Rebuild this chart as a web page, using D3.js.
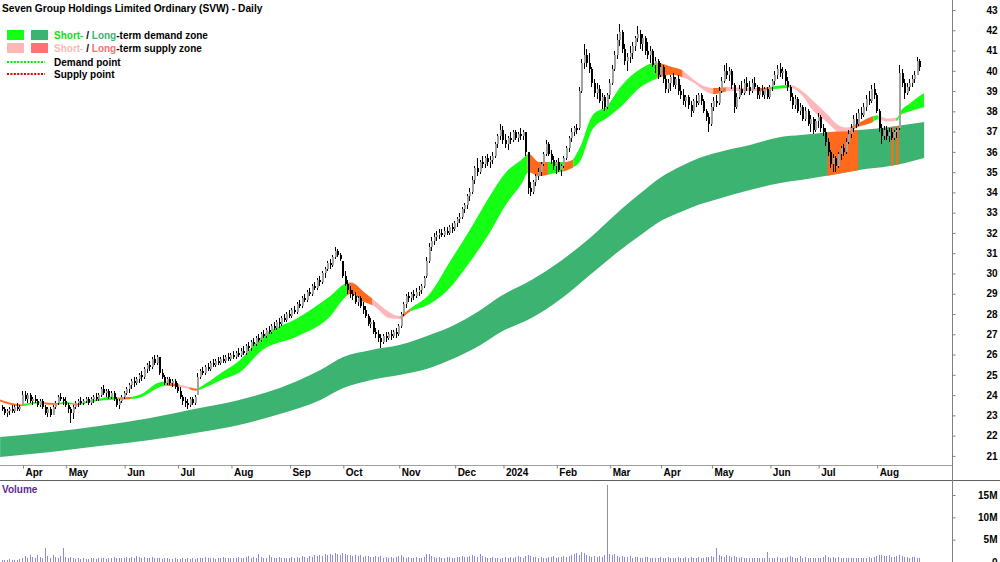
<!DOCTYPE html>
<html>
<head>
<meta charset="utf-8">
<script src="https://cdn.jsdelivr.net/npm/d3@7"></script>
<style>
  body { margin: 0; background: #fff; }
  svg { display: block; }
  text { font-family: "Liberation Sans", Arial, sans-serif; font-weight: bold; }
</style>
</head>
<body>
<svg id="chart" width="1000" height="562"></svg>
<script>
// ---- data ----
const startDate = '2023-03-22';
const endDate = '2024-08-26';
const holidays = ['2023-04-07', '2023-04-10', '2023-04-25', '2023-06-12', '2023-12-25', '2023-12-26',
  '2024-01-01', '2024-01-26', '2024-03-29', '2024-04-01', '2024-04-25', '2024-06-10'];

const monthLabels = ['Apr', 'May', 'Jun', 'Jul', 'Aug', 'Sep', 'Oct', 'Nov', 'Dec', '2024',
  'Feb', 'Mar', 'Apr', 'May', 'Jun', 'Jul', 'Aug'];
const priceTicks = [21, 22, 23, 24, 25, 26, 27, 28, 29, 30, 31, 32, 33, 34, 35, 36, 37, 38, 39, 40, 41, 42, 43];
const volumeTicks = [0, 5, 10, 15];

// open, high, low, close
const candles = [
  // Mar 2023
  [23.4,23.5,23.2,23.3],[23.3,23.4,23.0,23.1],[23.1,23.3,22.9,23.2],[23.2,23.4,23.0,23.3],
  [23.3,23.5,23.1,23.2],[23.2,23.5,23.1,23.4],[23.4,23.6,23.2,23.3],[23.3,23.5,23.2,23.4],
  // Apr
  [23.5,24.2,23.5,24.0],[24.0,24.2,23.7,23.8],[23.8,24.1,23.6,24.0],[24.0,24.1,23.6,23.7],
  [23.7,23.9,23.5,23.8],[23.8,24.0,23.6,23.7],[23.7,23.8,23.4,23.5],[23.5,23.8,23.4,23.7],
  [23.7,23.8,23.3,23.4],[23.4,23.5,23.0,23.1],[23.1,23.4,22.9,23.3],[23.3,23.4,22.9,23.0],
  [23.0,23.5,23.0,23.4],[23.4,23.7,23.3,23.6],[23.6,24.0,23.5,23.9],[23.9,24.1,23.7,23.8],
  [23.8,23.9,23.5,23.7],
  // May
  [23.7,23.9,23.4,23.5],[23.5,23.6,23.1,23.3],[23.3,23.4,22.6,23.1],[23.1,23.5,22.8,23.4],
  [23.4,23.7,23.3,23.6],[23.6,23.8,23.4,23.7],[23.7,23.9,23.5,23.6],[23.6,23.8,23.5,23.7],
  [23.7,23.9,23.6,23.8],[23.8,23.9,23.5,23.6],[23.6,23.9,23.5,23.8],[23.8,24.0,23.6,23.9],
  [23.9,24.1,23.7,23.8],[23.8,24.1,23.7,24.0],[24.0,24.4,23.9,24.3],[24.3,24.5,24.0,24.1],
  [24.1,24.3,23.9,24.2],[24.2,24.3,23.8,23.9],[23.9,24.2,23.8,24.1],[24.1,24.2,23.7,23.8],
  [23.8,23.9,23.4,23.5],[23.5,23.8,23.3,23.7],[23.7,24.0,23.6,23.9],
  // Jun
  [23.9,24.2,23.8,24.1],[24.1,24.4,24.0,24.3],[24.3,24.6,24.1,24.5],[24.5,24.8,24.3,24.7],
  [24.7,24.9,24.4,24.6],[24.6,24.9,24.5,24.8],[24.8,25.1,24.6,25.0],[25.0,25.2,24.7,24.9],
  [24.9,25.4,24.8,25.3],[25.3,25.6,25.1,25.5],[25.5,25.7,25.2,25.4],[25.4,25.9,25.3,25.8],
  [25.8,26.0,25.5,25.6],[25.6,26.0,25.5,25.9],[25.9,25.9,25.0,25.1],[25.1,25.3,24.8,24.9],
  [24.9,25.0,24.5,24.6],[24.6,24.9,24.5,24.8],[24.8,24.9,24.5,24.6],[24.6,24.8,24.4,24.7],
  [24.7,24.8,24.3,24.4],
  // Jul
  [24.4,24.6,24.1,24.2],[24.2,24.4,23.8,23.9],[23.9,24.0,23.5,23.7],[23.7,23.9,23.4,23.6],
  [23.6,23.8,23.3,23.5],[23.5,23.9,23.4,23.8],[23.8,23.9,23.5,23.6],[23.6,24.0,23.5,23.9],
  [24.0,25.1,24.0,24.9],[24.9,25.3,24.8,25.2],[25.2,25.4,25.0,25.1],[25.1,25.5,25.0,25.4],
  [25.4,25.6,25.2,25.3],[25.3,25.7,25.2,25.6],[25.6,25.8,25.4,25.5],[25.5,25.8,25.4,25.7],
  [25.7,25.9,25.5,25.6],[25.6,25.9,25.5,25.8],[25.8,26.0,25.6,25.7],[25.7,26.0,25.6,25.9],
  [25.9,26.1,25.7,25.8],
  // Aug
  [25.8,26.1,25.7,26.0],[26.0,26.2,25.8,25.9],[25.9,26.2,25.8,26.1],[26.1,26.3,25.9,26.0],
  [26.0,26.3,25.9,26.2],[26.2,26.4,26.0,26.1],[26.1,26.5,26.0,26.4],[26.4,26.6,26.2,26.3],
  [26.3,26.7,26.2,26.6],[26.6,26.8,26.4,26.5],[26.5,26.9,26.4,26.8],[26.8,27.0,26.6,26.7],
  [26.7,27.1,26.6,27.0],[27.0,27.2,26.8,26.9],[26.9,27.3,26.8,27.2],[27.2,27.4,27.0,27.1],
  [27.1,27.5,27.0,27.4],[27.4,27.6,27.2,27.3],[27.3,27.7,27.2,27.6],[27.6,27.8,27.3,27.5],
  [27.5,27.9,27.4,27.8],[27.8,28.0,27.6,27.7],[27.7,28.1,27.6,28.0],
  // Sep
  [28.0,28.2,27.8,27.9],[27.9,28.3,27.8,28.2],[28.2,28.4,28.0,28.1],[28.1,28.6,28.0,28.5],
  [28.5,28.7,28.3,28.4],[28.4,28.9,28.3,28.8],[28.8,29.0,28.6,28.7],[28.7,29.2,28.6,29.1],
  [29.1,29.3,28.9,29.0],[29.0,29.5,28.9,29.4],[29.4,29.6,29.2,29.3],[29.3,29.8,29.2,29.7],
  [29.7,29.9,29.4,29.6],[29.6,30.1,29.5,30.0],[30.0,30.3,29.8,30.2],[30.2,30.6,30.1,30.5],
  [30.5,30.7,30.2,30.4],[30.4,30.9,30.3,30.8],[30.8,31.3,30.7,31.1],[31.1,31.2,30.8,30.9],
  [30.9,31.0,30.6,30.7],
  // Oct
  [30.6,30.6,29.8,29.9],[29.9,30.1,29.4,29.5],[29.5,29.7,29.0,29.2],[29.2,29.4,28.8,29.0],
  [29.0,29.2,28.7,28.9],[28.9,29.1,28.5,28.6],[28.6,28.9,28.4,28.8],[28.8,28.9,28.3,28.4],
  [28.4,28.6,28.0,28.2],[28.2,28.4,27.8,27.9],[27.9,28.0,27.4,27.5],[27.5,27.8,27.3,27.6],
  [27.6,27.7,27.0,27.1],[27.1,27.3,26.8,27.0],[27.0,27.2,26.6,26.8],[26.8,27.0,26.3,26.6],
  [26.6,27.0,26.5,26.9],[26.9,27.1,26.6,26.8],[26.8,27.1,26.7,27.0],[27.0,27.2,26.7,26.9],
  [26.9,27.2,26.8,27.1],[27.1,27.3,26.8,27.0],
  // Nov
  [27.0,27.5,26.9,27.4],[27.4,28.1,27.3,28.0],[28.0,28.6,27.9,28.5],[28.5,29.0,28.3,28.9],
  [28.9,29.1,28.6,28.8],[28.8,29.1,28.6,29.0],[29.0,29.2,28.7,28.9],[28.9,29.3,28.8,29.1],
  [29.1,29.4,28.9,29.2],[29.2,29.5,29.0,29.4],[29.4,29.9,29.3,29.8],[29.9,30.8,29.8,30.6],
  [30.6,31.5,30.5,31.3],[31.3,31.8,31.1,31.6],[31.6,32.0,31.4,31.8],[31.8,32.1,31.6,31.9],
  [31.9,32.2,31.7,32.0],[32.0,32.2,31.8,31.9],[31.9,32.3,31.8,32.1],[32.1,32.3,31.9,32.0],
  [32.0,32.4,31.9,32.3],[32.3,32.5,32.0,32.2],
  // Dec
  [32.2,32.6,32.1,32.5],[32.5,32.8,32.3,32.7],[32.7,33.0,32.5,32.8],[32.8,33.3,32.7,33.2],
  [33.2,33.5,33.0,33.4],[33.4,33.9,33.2,33.8],[33.8,34.2,33.6,34.0],[34.0,34.8,33.9,34.6],
  [34.6,35.3,34.4,35.2],[35.2,35.7,34.8,35.0],[35.0,35.6,34.9,35.5],[35.5,35.8,35.2,35.4],
  [35.4,35.8,35.2,35.7],[35.7,35.9,35.3,35.5],[35.5,35.8,35.2,35.6],[35.6,36.0,35.4,35.8],
  [35.8,36.5,35.7,36.4],[36.4,36.9,36.2,36.8],[36.8,37.4,36.6,37.1],
  // Jan 2024
  [37.1,37.3,36.4,36.6],[36.6,36.9,36.2,36.4],[36.4,36.8,36.1,36.7],[36.7,37.0,36.4,36.6],
  [36.6,37.1,36.5,37.0],[37.0,37.1,36.6,36.7],[36.7,37.0,36.5,36.9],[36.9,37.2,36.6,36.8],
  [36.8,37.1,36.6,37.0],[37.0,37.0,35.8,36.0],[36.0,36.0,33.9,34.2],[34.2,34.5,33.8,34.0],
  [34.0,34.6,33.9,34.5],[34.5,34.9,34.3,34.8],[34.8,35.2,34.6,35.0],[35.0,35.5,34.8,35.4],
  [35.4,36.0,35.3,35.9],[35.9,36.6,35.8,36.4],[36.4,36.5,35.8,35.9],[35.9,36.1,35.4,35.6],
  [35.6,35.8,35.1,35.3],
  // Feb
  [35.3,35.6,34.9,35.5],[35.5,35.7,35.0,35.1],[35.1,35.4,34.8,35.3],[35.3,35.8,35.2,35.7],
  [35.7,36.3,35.6,36.2],[36.2,36.8,36.0,36.7],[36.7,37.2,36.5,37.0],[37.0,37.3,36.8,37.2],
  [37.2,37.4,36.9,37.1],[37.2,39.2,37.1,39.0],[39.0,40.6,38.9,40.4],[40.4,41.3,40.1,40.8],
  [40.8,41.1,40.2,40.4],[40.4,40.9,39.9,40.1],[40.1,40.2,39.2,39.4],[39.4,39.6,38.7,38.9],
  [38.9,39.4,38.6,39.1],[39.1,39.3,38.4,38.5],[38.5,38.9,38.1,38.7],[38.7,38.8,38.0,38.2],
  [38.2,38.9,38.1,38.8],
  // Mar
  [38.8,39.6,38.6,39.4],[39.4,40.3,39.3,40.1],[40.1,41.0,40.0,40.8],[40.8,41.8,40.6,41.5],
  [41.5,42.3,41.2,41.9],[41.9,42.0,40.9,41.1],[41.1,41.3,40.3,40.5],[40.5,40.9,40.0,40.7],
  [40.7,41.2,40.4,40.9],[40.9,41.4,40.6,41.2],[41.2,41.7,41.0,41.6],[41.6,42.2,41.4,41.8],
  [41.8,42.0,41.1,41.3],[41.3,41.8,41.0,41.6],[41.6,41.7,40.8,41.0],[41.0,41.4,40.6,40.8],
  [40.8,41.2,40.4,41.0],[41.0,41.1,40.2,40.3],[40.3,40.7,39.9,40.5],[40.5,40.6,39.6,39.8],
  // Apr
  [39.8,40.4,39.7,40.2],[40.2,40.3,39.4,39.6],[39.6,39.8,38.9,39.1],[39.1,39.6,38.9,39.4],
  [39.4,39.8,39.0,39.7],[39.7,39.9,39.2,39.3],[39.3,39.7,39.1,39.6],[39.6,39.8,38.8,39.0],
  [39.0,39.3,38.6,38.8],[38.8,39.1,38.3,38.5],[38.5,38.8,38.2,38.7],[38.7,38.8,38.1,38.3],
  [38.3,38.5,37.7,38.0],[38.0,38.6,37.9,38.5],[38.5,38.8,38.2,38.4],[38.4,38.9,38.3,38.8],
  [38.8,38.9,38.3,38.5],[38.5,38.6,37.9,38.0],[38.0,38.1,37.5,37.7],[37.7,37.9,37.0,37.4],
  // May
  [37.4,38.4,37.3,38.2],[38.2,38.7,38.0,38.5],[38.5,38.8,38.2,38.4],[38.4,39.2,38.3,39.0],
  [39.0,39.7,38.9,39.5],[39.5,40.3,39.4,40.0],[40.0,40.4,39.6,39.8],[39.8,40.2,39.5,40.0],
  [40.0,40.1,39.1,39.3],[39.3,39.4,37.9,38.2],[38.2,38.9,38.1,38.7],[38.7,39.3,38.6,39.1],
  [39.1,39.5,38.8,38.9],[38.9,39.6,38.8,39.4],[39.4,39.7,39.0,39.2],[39.2,39.5,38.8,39.0],
  [39.0,39.6,38.9,39.4],[39.4,39.7,39.1,39.2],[39.2,39.3,38.6,38.8],[38.8,39.2,38.6,39.0],
  [39.0,39.3,38.7,38.8],[38.8,39.2,38.6,39.1],[39.1,39.2,38.6,38.7],
  // Jun
  [38.7,39.3,38.6,39.2],[39.2,39.6,39.0,39.5],[39.5,40.0,39.3,39.8],[39.8,40.3,39.6,40.1],
  [40.1,40.4,39.7,39.9],[39.9,40.2,39.6,40.0],[40.0,40.1,39.3,39.5],[39.5,39.7,39.0,39.2],
  [39.2,39.3,38.5,38.7],[38.7,38.9,38.1,38.3],[38.3,38.8,38.1,38.6],[38.6,38.7,37.9,38.0],
  [38.0,38.4,37.8,38.2],[38.2,38.3,37.5,37.6],[37.6,38.2,37.5,38.0],[38.0,38.1,37.3,37.4],
  [37.4,37.8,37.0,37.6],[37.6,37.7,36.9,37.1],[37.1,37.6,37.0,37.5],
  // Jul
  [37.5,37.9,37.2,37.7],[37.7,37.8,37.0,37.2],[37.2,37.4,36.8,37.0],[37.0,37.2,36.3,36.5],
  [36.5,36.7,35.8,36.0],[36.0,36.1,35.2,35.4],[35.4,35.9,35.0,35.7],[35.7,35.8,35.0,35.3],
  [35.3,36.0,35.2,35.9],[35.9,36.3,35.6,36.2],[36.2,36.4,35.8,36.0],[36.0,36.7,35.9,36.5],
  [36.5,37.1,36.4,36.9],[36.9,37.4,36.7,37.2],[37.2,37.8,37.0,37.6],[37.6,37.9,37.2,37.4],
  [37.4,38.1,37.3,37.9],[37.9,38.2,37.6,37.8],[37.8,38.4,37.7,38.2],[38.2,38.8,38.0,38.6],
  [38.6,39.0,38.3,38.5],[38.5,39.3,38.4,39.1],[39.1,39.4,38.6,38.8],
  // Aug
  [38.8,38.9,37.9,38.0],[38.0,38.1,37.0,37.2],[37.2,37.4,36.4,36.8],[36.8,37.3,36.6,37.1],
  [37.1,37.3,36.6,36.8],[36.8,37.2,36.5,37.0],[37.0,37.2,36.6,36.7],[36.7,37.1,36.6,37.0],
  [37.0,37.2,36.7,37.1],[37.2,40.3,37.1,39.9],[39.9,40.1,39.2,39.4],[39.4,39.6,38.6,38.9],
  [38.9,39.4,38.8,39.2],[39.2,39.6,39.0,39.4],[39.4,39.8,39.2,39.6],[39.6,40.0,39.4,39.8],
  [39.8,40.7,39.8,40.5],[40.5,40.6,40.0,40.2]
];

// millions of shares
const volumes = [
  0.4,0.5,0.4,0.6,0.5,0.4,0.5,0.6,
  1.0,1.3,0.9,1.6,1.2,0.8,1.5,1.1,0.9,3.1,1.3,1.0,1.5,1.2,0.9,1.4,3.2,
  1.2,0.9,1.1,0.8,0.7,0.9,0.6,0.8,0.7,0.6,0.9,0.8,0.7,0.9,0.8,1.0,0.7,0.9,0.8,1.1,0.9,0.8,1.0,
  0.9,1.1,0.8,1.2,1.0,1.3,1.1,0.9,1.2,1.0,0.8,1.1,0.9,1.0,0.8,0.7,0.9,0.8,0.6,0.7,0.8,
  0.7,0.6,0.8,0.7,0.9,0.6,0.8,0.7,1.0,0.9,0.8,1.1,0.9,0.8,1.0,0.7,0.9,0.8,1.1,0.9,0.8,
  0.9,1.0,0.8,1.2,1.0,0.9,1.1,1.4,1.0,1.2,0.9,1.8,1.1,1.0,0.8,1.5,1.2,1.0,0.9,1.1,0.8,0.9,1.0,
  0.9,1.1,1.0,1.2,1.0,1.3,1.1,1.0,1.4,1.2,1.5,1.3,1.6,1.4,1.7,1.5,1.8,1.6,2.0,1.7,1.5,
  2.1,1.8,1.6,1.5,1.4,1.6,1.3,1.5,1.2,1.4,1.3,1.1,1.2,1.4,1.1,1.3,1.0,1.2,0.9,1.1,1.0,1.2,
  1.3,1.6,1.2,1.0,1.1,0.9,1.0,1.2,1.0,0.9,1.1,1.7,1.9,1.3,1.2,1.0,1.1,0.9,1.0,1.2,1.1,1.0,
  1.0,1.2,1.1,1.3,1.2,1.1,1.4,1.6,1.3,1.2,1.8,1.4,1.2,1.0,0.9,1.1,0.8,0.9,0.7,
  1.0,1.1,0.9,1.2,1.0,1.1,1.3,1.2,1.0,1.4,1.6,1.3,1.1,1.2,1.0,1.1,0.9,1.0,1.2,1.1,1.3,
  1.0,1.2,1.1,1.3,1.2,1.4,1.5,1.9,2.1,1.6,2.3,2.0,1.5,1.3,1.2,1.4,1.1,1.3,1.2,1.5,17.2,
  1.8,1.5,1.9,1.4,1.2,1.3,1.1,1.2,1.4,1.0,1.1,1.2,1.0,0.9,1.1,1.2,1.0,0.8,0.9,1.0,
  1.1,0.9,1.0,1.2,0.9,1.0,0.8,1.1,1.0,0.9,1.1,1.0,1.2,0.9,1.0,1.1,0.9,1.0,1.2,1.1,
  1.3,1.2,3.1,1.5,1.4,1.2,1.6,1.3,1.1,1.4,1.2,1.0,1.1,0.9,1.0,0.8,0.9,1.0,0.8,0.9,1.0,0.8,2.2,
  1.0,0.9,0.8,1.1,0.9,1.0,0.8,1.2,1.4,1.1,1.0,0.9,1.3,1.0,1.1,0.9,1.0,0.8,1.0,
  0.9,1.0,1.1,1.6,1.2,1.0,1.1,0.9,1.2,1.0,0.8,0.9,1.0,0.9,0.8,1.0,0.9,0.8,1.0,0.9,1.1,1.0,1.2,
  1.3,1.5,1.6,1.4,1.3,1.5,1.2,1.1,1.4,1.6,1.3,1.2,1.1,1.0,1.2,1.1,1.0,0.9
];

// short-term zone: [bar index, upper, lower]
const shortBand = [
  [-1,23.78,23.68],[7,23.55,23.45],[11,23.62,23.54],[15,23.68,23.6],[18,23.62,23.52],
  [21,23.6,23.52],[25,23.66,23.57],[29,23.58,23.5],[34,23.72,23.63],[38,23.82,23.72],
  [42,23.92,23.76],[46,23.88,23.78],[50,23.9,23.8],[55,24.08,23.92],[61,24.6,24.35],
  [64,24.66,24.46],[68,24.56,24.42],[72,24.45,24.35],[76,24.32,24.22],[80,24.58,24.4],
  [86,25.1,24.75],[93,25.7,25.1],[102,26.9,26.2],[116,27.8,26.9],[129,28.9,27.9],
  [135,29.5,28.85],[137,29.55,29.0],[142,29.1,28.6],[146,28.7,28.4],[152,28.1,27.8],
  [156,27.9,27.75],[160,28.25,28.1],[168,29.0,28.5],[176,30.6,29.3],[184,32.2,30.6],
  [192,33.9,32.1],[198,35.0,33.4],[204,35.6,34.4],[207,35.9,35.0],[211,35.5,34.8],
  [217,35.5,34.95],[221,35.5,35.05],[224,35.6,35.2],[227,36.2,35.5],[232,37.8,37.1],
  [238,38.3,37.7],[243,39.2,38.2],[251,40.1,39.2],[257,40.4,39.6],[263,40.2,39.8],
  [267,40.05,39.7],[272,39.55,39.4],[277,39.2,38.96],[280,39.15,38.85],[286,39.2,39.0],
  [292,39.15,39.0],[298,39.15,39.0],[304,39.25,39.1],[310,39.3,39.15],[314,39.05,38.85],
  [319,38.5,38.0],[324,37.9,37.5],[329,37.3,37.0],[332,37.2,37.0],[337,37.45,37.25],
  [342,37.75,37.45],[344,37.8,37.6],[348,37.65,37.5],[352,37.7,37.55],[353,37.95,37.8],
  [357,38.4,38.0],[362.5,38.9,38.2]
];
// short-term zone state from bar index onwards
const shortStates = [
  [-1,'down'],[8,'up'],[17,'down'],[23,'up'],[28,'down'],[31,'up'],[46,'down'],[51,'up'],
  [65,'down'],[70,'fade'],[74,'down'],[77,'up'],[136,'down'],[146,'fade'],[157,'down'],
  [161,'up'],[207,'down'],[215,'up'],[221,'down'],[225,'up'],[258,'down'],[268,'fade'],
  [280,'down'],[285,'fade'],[298,'down'],[303,'up'],[310,'fade'],[334,'down'],[343,'up'],
  [345,'fade'],[352,'up']
];

// long-term zone: [bar index, upper, lower]
const longBand = [
  [-1,21.93,20.95],[19,22.18,21.19],[38,22.48,21.49],[58,22.87,21.79],[78,23.37,22.18],
  [93,23.76,22.53],[109,24.35,23.07],[125,25.24,23.76],[134,25.88,24.35],[145,26.23,24.75],
  [156,26.47,24.99],[168,26.97,25.34],[176,27.36,25.73],[188,28.2,26.47],[196,28.89,27.11],
  [208,29.68,27.8],[219,30.57,28.69],[231,31.75,29.93],[243,33.13,31.16],[251,33.97,31.9],
  [259,34.75,32.6],[267,35.3,33.05],[274,35.7,33.4],[282,36.0,33.7],[294,36.34,34.12],
  [306,36.73,34.47],[314,36.83,34.61],[326,36.98,34.86],[337,37.08,35.11],[349,37.23,35.3],
  [362.5,37.47,35.7]
];
// bar ranges where the long-term zone turns to supply [from, to)
const longSupply = [[325, 337], [350, 351], [352, 353]];

const zoneColors = { up: '#14ff14', down: '#ff6a1c', fade: '#ffb8ba' };
const longColor = '#3cb371';

// ---- trading days ----
const parse = d3.utcParse('%Y-%m-%d');
const fmt = d3.utcFormat('%Y-%m-%d');
const days = [];
for (let d = parse(startDate); d <= parse(endDate); d = d3.utcDay.offset(d, 1)) {
  const wd = d.getUTCDay();
  if (wd === 0 || wd === 6 || holidays.includes(fmt(d))) continue;
  days.push(d);
}
const monthStarts = [];
days.forEach((d, i) => {
  if (i > 0 && d.getUTCMonth() !== days[i - 1].getUTCMonth()) monthStarts.push(i);
});

// ---- layout ----
const svg = d3.select('#chart');
const axisX = 952.5;
const priceBottom = 465.5;
const volTop = 480.5;

const x = d3.scaleLinear().domain([0, 374]).range([2.66, 953.4]);
const y = d3.scaleLinear().domain([21, 43]).range([455.9, 10]);
const yv = d3.scaleLinear().domain([0, 15]).range([562, 495]);

svg.append('clipPath').attr('id', 'plot')
  .append('rect').attr('x', 0).attr('y', 0).attr('width', axisX).attr('height', priceBottom);

const plot = svg.append('g').attr('clip-path', 'url(#plot)');

const area = d3.area()
  .x(d => x(d[0]))
  .y0(d => y(d[2]))
  .y1(d => y(d[1]))
  .curve(d3.curveMonotoneX);

// long-term zone
plot.append('path').attr('d', area(longBand)).attr('fill', longColor);
longSupply.forEach((r, k) => {
  const id = 'ls' + k;
  svg.append('clipPath').attr('id', id).append('rect')
    .attr('x', x(r[0] - 0.5)).attr('y', 0)
    .attr('width', x(r[1] - 0.5) - x(r[0] - 0.5)).attr('height', priceBottom);
  plot.append('path').attr('d', area(longBand)).attr('fill', zoneColors.down)
    .attr('clip-path', `url(#${id})`);
});

// short-term zone
shortStates.forEach((s, k) => {
  const from = s[0];
  const to = k + 1 < shortStates.length ? shortStates[k + 1][0] : 363;
  const id = 'ss' + k;
  const x0 = from < 0 ? 0 : x(from - 0.5);
  svg.append('clipPath').attr('id', id).append('rect')
    .attr('x', x0).attr('y', 0)
    .attr('width', x(to - 0.5) - x0).attr('height', priceBottom);
  plot.append('path').attr('d', area(shortBand)).attr('fill', zoneColors[s[1]])
    .attr('clip-path', `url(#${id})`);
});

// candles
const bars = plot.append('g').attr('shape-rendering', 'crispEdges');
bars.selectAll('line')
  .data(candles)
  .enter()
  .append('line')
  .attr('x1', (d, i) => Math.round(x(i)) - 0.5)
  .attr('x2', (d, i) => Math.round(x(i)) - 0.5)
  .attr('y1', d => y(d[1]))
  .attr('y2', d => y(d[2]))
  .attr('stroke', '#000')
  .attr('stroke-width', 1);
bars.selectAll('rect')
  .data(candles)
  .enter()
  .append('rect')
  .attr('x', (d, i) => Math.round(x(i)) - 1)
  .attr('width', 2)
  .attr('y', d => y(Math.max(d[0], d[3])))
  .attr('height', d => Math.max(1, Math.abs(y(d[0]) - y(d[3]))))
  .attr('fill', d => d[3] >= d[0] ? '#a2a2a2' : '#000');

// volume
svg.append('g').attr('shape-rendering', 'crispEdges')
  .selectAll('rect')
  .data(volumes)
  .enter()
  .append('rect')
  .attr('x', (d, i) => Math.round(x(i)) - 1)
  .attr('width', 1)
  .attr('y', d => yv(d))
  .attr('height', d => yv(0) - yv(d))
  .attr('fill', '#8c8cd4');

// frame lines
svg.append('line').attr('x1', 0).attr('x2', axisX).attr('y1', priceBottom).attr('y2', priceBottom)
  .attr('stroke', '#a0a0a0');
svg.append('line').attr('x1', 0).attr('x2', 1000).attr('y1', volTop).attr('y2', volTop)
  .attr('stroke', '#606060');
svg.append('line').attr('x1', axisX).attr('x2', axisX).attr('y1', 0).attr('y2', 562)
  .attr('stroke', '#808080');

// price axis
const pAxis = svg.append('g').attr('transform', `translate(${axisX},0)`)
  .call(d3.axisRight(y).tickValues(priceTicks).tickSize(3).tickPadding(0));
pAxis.select('.domain').remove();
pAxis.selectAll('.tick line').attr('stroke', '#808080');
pAxis.selectAll('.tick text').attr('x', 45).attr('text-anchor', 'end')
  .attr('font-size', 10).attr('font-family', null).attr('fill', '#000');

// volume axis
const vAxis = svg.append('g').attr('transform', `translate(${axisX},0)`)
  .call(d3.axisRight(yv).tickValues(volumeTicks).tickSize(3)
    .tickFormat(d => d === 0 ? '0' : d + 'M'));
vAxis.select('.domain').remove();
vAxis.selectAll('.tick line').attr('stroke', '#808080');
vAxis.selectAll('.tick text').attr('x', 45).attr('text-anchor', 'end')
  .attr('font-size', 10).attr('font-family', null).attr('fill', '#000');

// date axis
const dAxis = svg.append('g').attr('transform', `translate(0,${priceBottom})`)
  .call(d3.axisBottom(x).tickValues(monthStarts).tickSize(3)
    .tickFormat((d, i) => monthLabels[i]));
dAxis.select('.domain').remove();
dAxis.selectAll('.tick line').attr('stroke', '#808080');
dAxis.selectAll('.tick text').attr('text-anchor', 'start').attr('x', 2).attr('y', 3)
  .attr('dy', '0.71em').attr('font-size', 10).attr('font-family', null).attr('fill', '#000');

// titles
svg.append('text').attr('x', 2).attr('y', 12).attr('font-size', 10.2)
  .text('Seven Group Holdings Limited Ordinary (SVW) - Daily');
svg.append('text').attr('x', 2).attr('y', 493).attr('font-size', 10).attr('fill', '#5b2b91')
  .text('Volume');

// legend
const legend = svg.append('g');
const legendRows = [
  { y: 30, c1: zoneColors.up, c2: longColor, t1: '#10e010', t2: longColor, rest: '-term demand zone' },
  { y: 43, c1: '#ffb6b6', c2: '#ff7070', t1: '#ffb6b6', t2: '#ff7070', rest: '-term supply zone' }
];
legendRows.forEach(r => {
  legend.append('rect').attr('x', 7).attr('y', r.y).attr('width', 17).attr('height', 10).attr('fill', r.c1);
  legend.append('rect').attr('x', 31).attr('y', r.y).attr('width', 17).attr('height', 10).attr('fill', r.c2);
  const t = legend.append('text').attr('x', 54).attr('y', r.y + 9).attr('font-size', 10);
  t.append('tspan').attr('fill', r.t1).text('Short-');
  t.append('tspan').attr('fill', '#000').text(' / ');
  t.append('tspan').attr('fill', r.t2).text('Long');
  t.append('tspan').attr('fill', '#000').text(r.rest);
});
[{ y: 62, c: '#00ee00', label: 'Demand point' }, { y: 74, c: '#ee0000', label: 'Supply point' }]
  .forEach(r => {
    legend.append('line').attr('x1', 7).attr('x2', 45).attr('y1', r.y).attr('y2', r.y)
      .attr('stroke', r.c).attr('stroke-width', 2).attr('stroke-dasharray', '2,1.4');
    legend.append('text').attr('x', 54).attr('y', r.y + 4).attr('font-size', 10).text(r.label);
  });
</script>
</body>
</html>
